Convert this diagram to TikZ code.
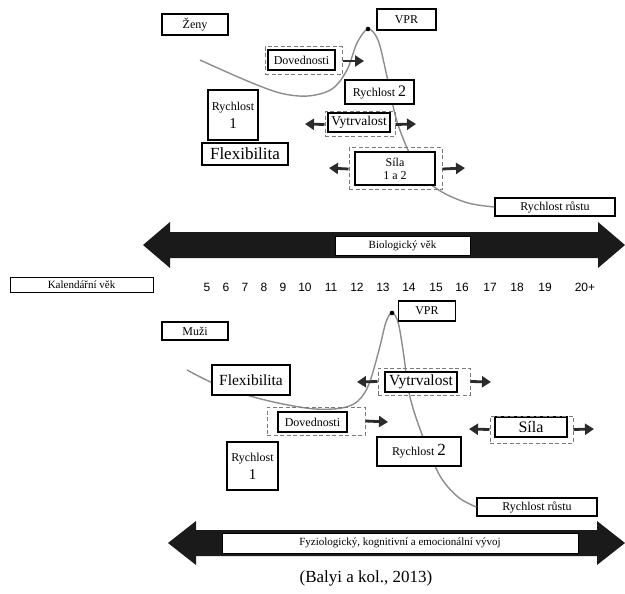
\documentclass[tikz,border=0pt]{standalone}
\usepackage{fontspec}
\setmainfont{Liberation Serif}
\newfontfamily\agefont{Liberation Sans}
\usepackage{tikz}
\usetikzlibrary{arrows.meta}
\definecolor{curvegray}{HTML}{8C8C8C}
\definecolor{dashgray}{HTML}{7A7A7A}
\definecolor{arrowdark}{HTML}{2B2B2B}

\begin{document}
\begin{tikzpicture}[
            x=1pt, y=-1pt,
            >={Triangle[length=9pt,width=11pt]},
            box/.style={draw, line width=1.4pt, fill=white, inner sep=0pt,
                font=\fontsize{12}{13}\selectfont},
            dbox/.style={draw=dashgray, dash pattern=on 4pt off 2.5pt, line width=1pt, inner sep=0pt},
            growth/.style={curvegray, line width=1.4pt},
            push/.style={->, draw=arrowdark, line width=2.8pt},
            bigarrow/.style={fill=arrowdark!60!black},
            age/.style={font=\agefont\fontsize{12}{13}\selectfont, inner sep=0pt}
        ]
            \useasboundingbox (0,0) rectangle (625,594);

            % Zeny: curve first, boxes on top
            \coordinate (peakF) at (368,29);
            \node[box, minimum width=120pt, minimum height=18pt] (rustF) at (555,207) {Rychlost růstu};
            \draw[growth] plot[smooth, tension=0.55] coordinates {(200,60) (245,80) (280,93) (308,96) (332,89) (347,70) (357,43) (peakF) (378,40) (386,72) (396,118) (408,150) (422,176) (442,192) (468,203) (rustF.west)};
            \fill (peakF) circle (2.3pt);

            \node[box, minimum width=66pt, minimum height=21pt] (zeny) at (195,24.5) {Ženy};
            \node[box, minimum width=59pt, minimum height=21pt] (vprF) at (406.5,19.5) {VPR};
            \node[box, minimum width=67pt, minimum height=20pt] (dovF) at (301.5,60) {Dovednosti};
            \node[dbox, minimum width=77pt, minimum height=28pt] (dovFd) at (303.5,61) {};
            \node[box, minimum width=50pt, minimum height=50pt, align=center] (rychF) at (233,115)
                {Rychlost\\[5pt]{\fontsize{15}{15}\selectfont 1}};
            \node[box, minimum width=86pt, minimum height=22pt, font=\fontsize{17}{18}\selectfont] (flexF) at (245,154) {Flexibilita};
            \node[box, minimum width=69pt, minimum height=24pt] (rych2F) at (379.5,92)
                {Rychlost {\fontsize{16}{16}\selectfont 2}};
            \node[box, minimum width=62pt, minimum height=19pt, font=\fontsize{13.5}{14}\selectfont] (vytF) at (359,122.5) {Vytrvalost};
            \node[dbox, minimum width=70pt, minimum height=25pt] (vytFd) at (360,124.5) {};
            \node[box, minimum width=80pt, minimum height=33pt, align=center] (silaF) at (395,168.5)
                {Síla\\1 a 2};
            \node[dbox, minimum width=93pt, minimum height=42pt] (silaFd) at (395.5,169) {};

            \coordinate (dovFto) at (364,61);
            \coordinate (vytFl) at (305,124);
            \coordinate (vytFr) at (416,124);
            \coordinate (silaFl) at (329,168);
            \coordinate (silaFr) at (465,168);
            \draw[push] (dovFd.east) -- (dovFto);
            \draw[push] (vytFd.west) -- (vytFl);
            \draw[push] (vytFd.east) -- (vytFr);
            \draw[push] (silaFd.west) -- (silaFl);
            \draw[push] (silaFd.east) -- (silaFr);

            % Biological age arrow
            \fill[bigarrow] (143,245) -- (170,222) -- (170,232) -- (598,232) -- (598,222)
                -- (625,245) -- (598,268) -- (598,258) -- (170,258) -- (170,268) -- cycle;
            \node[box, line width=1pt, minimum width=135pt, minimum height=19pt,
                font=\fontsize{11}{12}\selectfont] (bio) at (402.5,245.5) {Biologický věk};

            % Calendar age
            \node[box, line width=1pt, minimum width=143pt, minimum height=15pt,
                font=\fontsize{11}{12}\selectfont] (kal) at (81.5,284.5) {Kalendářní věk};
            \foreach \n/\xp in {5/207,6/226,7/245,8/264,9/283,10/305,11/331,12/357,13/383,
                14/409,15/436,16/462,17/490,18/517,19/545}
                \node[age] (age\n) at (\xp,287) {\n};
            \node[age] (age20) at (585,287) {20+};

            % Muzi: curve first, boxes on top
            \coordinate (peakM) at (392,313);
            \node[box, minimum width=120pt, minimum height=18pt] (rustM) at (537,507) {Rychlost růstu};
            \draw[growth] plot[smooth, tension=0.55] coordinates {(187,370) (213,383) (250,396) (283,404) (315,409) (342,408) (358,401) (369,384) (379,350) (386,322) (peakM) (398,322) (403,350) (410,397) (423,437) (440,476) (458,497) (rustM.west)};
            \fill (peakM) circle (2.3pt);

            \node[box, minimum width=66pt, minimum height=18pt] (muzi) at (195,331) {Muži};
            \node[box, minimum width=57pt, minimum height=20pt] (vprM) at (427,311) {VPR};
            \node[box, minimum width=78pt, minimum height=30pt, font=\fontsize{15.5}{16}\selectfont] (flexM) at (251,380) {Flexibilita};
            \node[box, minimum width=69pt, minimum height=20pt] (dovM) at (312.5,422) {Dovednosti};
            \node[dbox, minimum width=98pt, minimum height=28pt] (dovMd) at (316,421) {};
            \node[box, minimum width=72pt, minimum height=20pt, font=\fontsize{15.5}{16}\selectfont] (vytM) at (421,382) {Vytrvalost};
            \node[dbox, minimum width=92pt, minimum height=27pt] (vytMd) at (424,381.5) {};
            \node[box, minimum width=72pt, minimum height=20pt, font=\fontsize{16}{17}\selectfont] (silaM) at (531,427) {Síla};
            \node[dbox, minimum width=83pt, minimum height=27pt] (silaMd) at (531.5,429.5) {};
            \node[box, minimum width=84pt, minimum height=29pt] (rych2M) at (419,451.5)
                {Rychlost {\fontsize{17}{17}\selectfont 2}};
            \node[box, minimum width=51pt, minimum height=48pt, align=center] (rychM) at (252.5,466)
                {Rychlost\\[5pt]{\fontsize{15}{15}\selectfont 1}};

            \coordinate (dovMto) at (388,422);
            \coordinate (vytMl) at (357,382);
            \coordinate (vytMr) at (491,382);
            \coordinate (silaMl) at (469,429);
            \coordinate (silaMr) at (594,429);
            \draw[push] (dovMd.east) -- (dovMto);
            \draw[push] (vytMd.west) -- (vytMl);
            \draw[push] (vytMd.east) -- (vytMr);
            \draw[push] (silaMd.west) -- (silaMl);
            \draw[push] (silaMd.east) -- (silaMr);

            % Development arrow
            \fill[bigarrow] (168,543) -- (196,521) -- (196,530) -- (597,530) -- (597,521)
                -- (625,543) -- (597,565) -- (597,556) -- (196,556) -- (196,565) -- cycle;
            \node[box, line width=1pt, minimum width=356pt, minimum height=20pt,
                font=\fontsize{11}{12}\selectfont] (dev) at (400,543) {Fyziologický, kognitivní a emocionální vývoj};

            % Source
            \node[font=\fontsize{17}{18}\selectfont, inner sep=0pt] (src) at (366,578) {(Balyi a kol., 2013)};

        \end{tikzpicture}
\end{document}
